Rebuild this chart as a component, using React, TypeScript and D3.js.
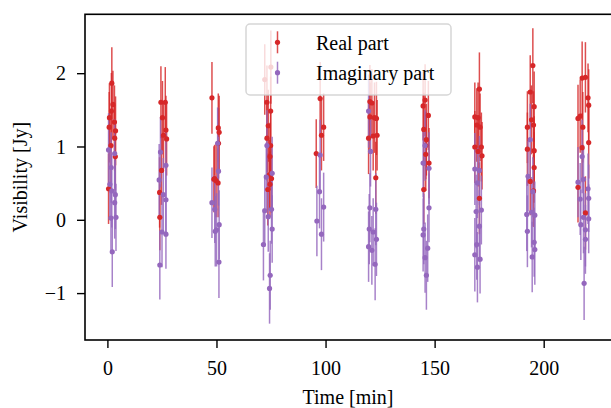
import React from "react";
import * as d3 from "d3";

// Visibility samples: [time (min), value (Jy), 1-sigma error (Jy)]
const realPoints: [number, number, number][] = [
  [1.8, 1.87, 0.49], [0.6, 1.27, 0.48], [3.0, 1.34, 0.5], [3.5, 1.22, 0.47], [3.1, 1.12, 0.45],
  [1.4, 1.02, 0.5], [3.4, 0.87, 0.46], [0.3, 0.43, 0.48], [1.6, 1.49, 0.52], [0.7, 1.4, 0.47], [2.3, 1.58, 0.46],
  [24.3, 1.61, 0.49], [26.3, 1.61, 0.48], [25.0, 1.4, 0.5], [26.6, 1.23, 0.47], [25.5, 1.16, 0.46],
  [26.9, 1.11, 0.5], [24.6, 0.68, 0.47], [23.7, 0.38, 0.48], [23.8, 0.04, 0.45],
  [47.7, 1.67, 0.49], [50.6, 1.26, 0.47], [51.0, 1.2, 0.5], [50.7, 1.05, 0.48], [48.9, 0.57, 0.46],
  [49.6, 0.54, 0.5], [50.5, 0.51, 0.47], [48.6, 0.56, 0.45],
  [71.9, 1.92, 0.48], [74.7, 2.09, 0.5], [72.9, 1.61, 0.5], [74.6, 1.49, 0.47], [73.5, 1.29, 0.49],
  [72.9, 1.12, 0.46], [74.6, 1.02, 0.5], [74.3, 0.87, 0.46], [74.0, 0.62, 0.48], [75.0, 0.57, 0.47],
  [73.3, 0.42, 0.49], [74.3, 0.49, 0.45],
  [97.3, 1.66, 0.5], [98.9, 1.27, 0.46], [97.9, 1.16, 0.48], [95.5, 0.91, 0.47],
  [120.1, 1.62, 0.5], [122.2, 1.4, 0.48], [120.1, 1.41, 0.47], [123.1, 1.39, 0.5], [119.5, 1.12, 0.49],
  [121.6, 1.15, 0.47], [123.4, 1.16, 0.48], [121.0, 1.6, 0.46], [122.8, 0.58, 0.49],
  [145.4, 1.64, 0.49], [146.9, 1.43, 0.47], [144.8, 1.24, 0.5], [145.7, 1.02, 0.46], [147.2, 0.78, 0.48],
  [144.8, 0.42, 0.47], [146.0, 1.1, 0.49], [145.7, 0.9, 0.5], [144.5, 1.56, 0.47],
  [170.3, 1.79, 0.5], [168.2, 1.41, 0.47], [169.7, 1.4, 0.48], [169.1, 1.3, 0.5], [170.6, 1.27, 0.46],
  [168.2, 1.0, 0.49], [171.2, 1.0, 0.47], [169.7, 0.94, 0.48], [171.5, 0.88, 0.46], [170.3, 0.3, 0.49],
  [194.8, 2.11, 0.51], [193.6, 1.75, 0.5], [195.4, 1.55, 0.48], [194.2, 1.37, 0.47], [192.3, 1.27, 0.49],
  [195.1, 1.3, 0.46], [192.3, 0.97, 0.5], [195.4, 0.95, 0.47], [195.4, 0.72, 0.48], [193.6, 0.53, 0.46],
  [195.1, 0.4, 0.49],
  [217.4, 1.94, 0.5], [218.9, 1.95, 0.48], [220.1, 1.67, 0.47], [220.4, 1.57, 0.49], [216.5, 1.42, 0.5],
  [215.5, 1.39, 0.46], [217.7, 1.27, 0.48], [217.4, 0.99, 0.47], [220.4, 1.06, 0.49], [215.5, 0.45, 0.48],
  [218.9, 0.1, 0.5],
];

const imagPoints: [number, number, number][] = [
  [0.3, 0.96, 0.5], [3.1, 0.91, 0.47], [1.5, 0.72, 0.48], [0.9, 0.49, 0.46], [1.8, 0.4, 0.5],
  [3.4, 0.35, 0.47], [3.1, 0.24, 0.49], [3.7, 0.04, 0.46], [1.4, 0.03, 0.48], [2.0, -0.43, 0.48],
  [24.1, 0.93, 0.48], [23.5, 0.55, 0.49], [26.6, 0.75, 0.47], [25.4, 0.35, 0.5], [26.6, 0.28, 0.46],
  [24.8, -0.16, 0.48], [26.6, -0.19, 0.47], [23.8, -0.61, 0.47],
  [50.3, 1.05, 0.49], [50.7, 0.67, 0.47], [47.7, 0.24, 0.48], [49.0, 0.15, 0.46], [49.8, -0.13, 0.5],
  [51.0, -0.06, 0.47], [49.2, -0.15, 0.48], [50.9, -0.57, 0.49],
  [72.9, 1.02, 0.48], [72.6, 0.59, 0.47], [75.3, 0.64, 0.5], [71.9, 0.13, 0.49], [75.0, 0.15, 0.47],
  [73.5, 0.05, 0.48], [75.3, -0.12, 0.46], [71.3, -0.33, 0.49], [74.4, -0.75, 0.47], [74.1, -0.93, 0.48],
  [97.3, 0.89, 0.48], [97.0, 0.39, 0.5], [98.9, 0.18, 0.47], [95.8, -0.01, 0.48], [97.9, -0.19, 0.49],
  [119.5, 1.49, 0.5], [120.4, 0.94, 0.48], [120.1, 0.17, 0.47], [122.8, 0.15, 0.49], [119.8, -0.12, 0.48],
  [121.6, -0.16, 0.46], [123.1, -0.26, 0.5], [119.5, -0.36, 0.48], [121.0, -0.41, 0.47], [122.5, -0.6, 0.49],
  [145.4, 1.02, 0.48], [144.5, 0.78, 0.47], [147.2, 0.71, 0.49], [147.2, 0.17, 0.47], [144.8, -0.12, 0.48],
  [144.5, -0.2, 0.5], [146.6, -0.38, 0.46], [145.4, -0.51, 0.48], [146.0, -0.75, 0.47],
  [168.2, 0.7, 0.49], [170.3, 0.68, 0.47], [169.4, 0.51, 0.48], [168.8, 0.12, 0.5], [171.2, 0.14, 0.47],
  [170.3, -0.08, 0.49], [169.1, -0.33, 0.48], [168.2, -0.47, 0.5], [170.6, -0.53, 0.47], [169.4, -0.64, 0.48],
  [193.6, 1.1, 0.49], [192.6, 0.6, 0.48], [194.8, 0.39, 0.47], [192.0, 0.08, 0.5], [194.2, 0.11, 0.48],
  [195.7, 0.07, 0.46], [192.3, -0.15, 0.49], [195.4, -0.3, 0.47], [195.7, -0.4, 0.48], [194.5, -0.5, 0.48],
  [217.4, 0.87, 0.5], [215.5, 0.52, 0.48], [218.0, 0.56, 0.47], [216.5, 0.29, 0.49], [220.1, 0.43, 0.48],
  [220.4, 0.3, 0.46], [218.0, 0.04, 0.49], [220.4, 0.02, 0.47], [216.8, -0.06, 0.48], [218.9, -0.13, 0.5],
  [218.3, -0.86, 0.5], [218.9, -0.26, 0.47],
];

const xTicks = [0, 50, 100, 150, 200];
const yTicks = [-1, 0, 1, 2];
const legendLabels = ["Real part", "Imaginary part"];
const seriesColors = ["#d62728", "#9467bd"];

const W = 611;
const H = 408;
const left = 85;
const top = 14.3;
const bottom = 340;
const right = 614;

const FONT = "'Liberation Serif', 'DejaVu Serif', 'Times New Roman', serif";

export default function App() {
  const x = d3.scaleLinear().domain([-10.5, 232]).range([left, right]);
  const y = d3.scaleLinear().domain([-1.633, 2.81]).range([bottom, top]);
  const fmt = (v: number) => (v < 0 ? "\u2212" + Math.abs(v) : String(v));

  const series = [realPoints, imagPoints];

  const bars = (pts: [number, number, number][], color: string, key: string) => (
    <g key={key} stroke={color} strokeOpacity={0.82} strokeWidth={1.5}>
      {pts.map((p, i) => (
        <line key={i} x1={x(p[0])} x2={x(p[0])} y1={y(p[1] - p[2])} y2={y(p[1] + p[2])} />
      ))}
    </g>
  );
  const markers = (pts: [number, number, number][], color: string, key: string) => (
    <g key={key} fill={color}>
      {pts.map((p, i) => (
        <circle key={i} cx={x(p[0])} cy={y(p[1])} r={2.6} />
      ))}
    </g>
  );

  const legX = 246;
  const legY = 24;
  const legW = 205;
  const legH = 71;
  const entryY = [42.3, 72.7];

  return (
    <svg
      width={W}
      height={H}
      style={{ position: "absolute", left: 0, top: 0, display: "block", background: "white" }}
      fontFamily={FONT}
    >
      <rect x={0} y={0} width={W} height={H} fill="white" />
      {/* error bars beneath markers */}
      {series.map((s, i) => bars(s, seriesColors[i], "b" + i))}
      {series.map((s, i) => markers(s, seriesColors[i], "m" + i))}

      {/* legend */}
      <rect
        x={legX}
        y={legY}
        width={legW}
        height={legH}
        rx={4}
        fill="white"
        fillOpacity={0.8}
        stroke="#cccccc"
        strokeOpacity={0.8}
        strokeWidth={1.5}
      />
      {legendLabels.map((lab, i) => (
        <g key={lab}>
          <line
            x1={277.5}
            x2={277.5}
            y1={entryY[i] - 11}
            y2={entryY[i] + 11}
            stroke={seriesColors[i]}
            strokeOpacity={0.82}
            strokeWidth={1.5}
          />
          <circle cx={277.5} cy={entryY[i]} r={2.6} fill={seriesColors[i]} />
          <text x={316} y={entryY[i] + 7.5} fontSize={20} fill="black">
            {lab}
          </text>
        </g>
      ))}

      {/* frame */}
      <rect x={left} y={top} width={right - left} height={bottom - top} fill="none" stroke="black" strokeWidth={1.6} />

      {/* x axis */}
      {xTicks.map((t) => (
        <g key={t}>
          <line x1={x(t)} x2={x(t)} y1={bottom} y2={bottom + 8} stroke="black" strokeWidth={1.4} />
          <text x={x(t)} y={375} fontSize={20} textAnchor="middle" fill="black">
            {fmt(t)}
          </text>
        </g>
      ))}
      <text x={348} y={404} fontSize={20} textAnchor="middle" fill="black">
        Time [min]
      </text>

      {/* y axis */}
      {yTicks.map((t) => (
        <g key={t}>
          <line x1={left - 8} x2={left} y1={y(t)} y2={y(t)} stroke="black" strokeWidth={1.4} />
          <text x={66} y={y(t) + 6.8} fontSize={20} textAnchor="end" fill="black">
            {fmt(t)}
          </text>
        </g>
      ))}
      <text
        transform={`translate(27, ${(top + bottom) / 2}) rotate(-90)`}
        fontSize={20}
        textAnchor="middle"
        fill="black"
      >
        Visibility [Jy]
      </text>
    </svg>
  );
}
